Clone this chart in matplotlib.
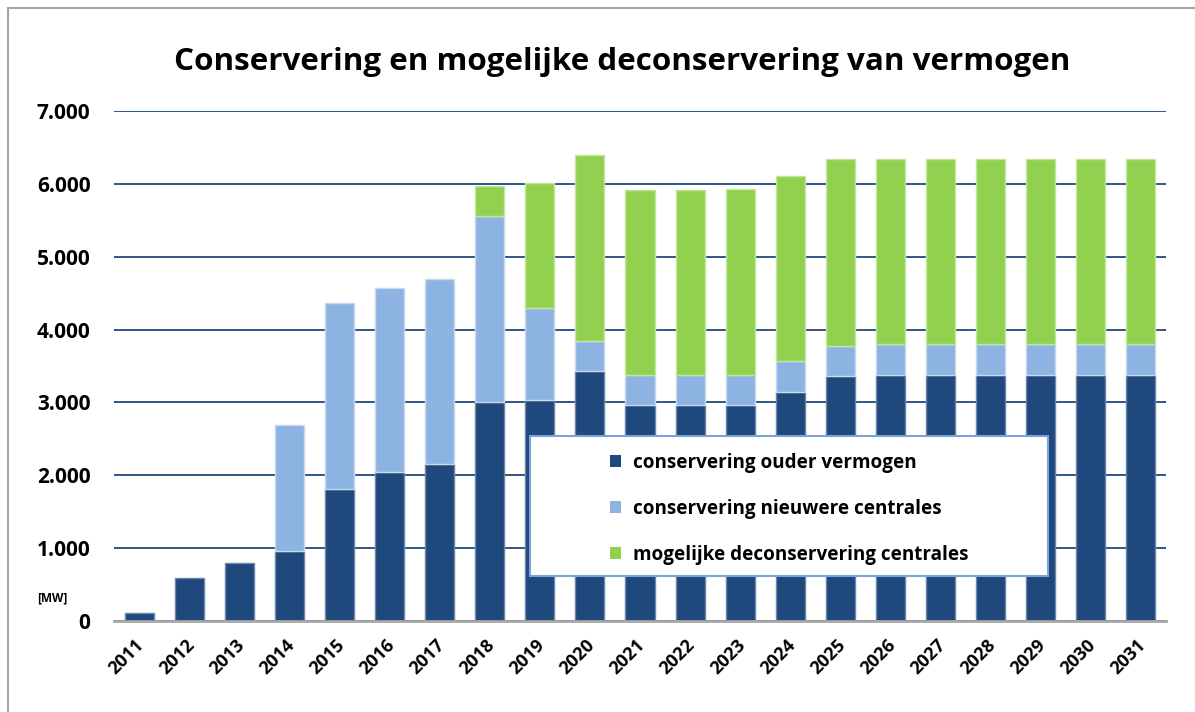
import matplotlib.pyplot as plt
import matplotlib.transforms as mtransforms
import numpy as np
from matplotlib.patches import Patch, Rectangle
from matplotlib.ticker import FuncFormatter

plt.rcParams['font.family'] = ['Open Sans', 'DejaVu Sans']

years = [str(y) for y in range(2011, 2032)]
ouder = [110, 585, 790, 965, 1810, 2045, 2155, 3010, 3040, 3430, 2960, 2960,
         2960, 3150, 3360, 3375, 3375, 3375, 3375, 3375, 3375]
nieuwere = [0, 0, 0, 1730, 2555, 2525, 2540, 2550, 1250, 410, 420, 420,
            420, 425, 420, 425, 425, 425, 425, 425, 425]
deconserv = [0, 0, 0, 0, 0, 0, 0, 410, 1715, 2550, 2535, 2535,
             2555, 2535, 2555, 2535, 2535, 2535, 2535, 2535, 2535]
labels = ['conservering ouder vermogen',
          'conservering nieuwere centrales',
          'mogelijke deconservering centrales']
colors = ['#1F497D', '#8DB3E2', '#92D050']
edges = ['#6b86a8', '#c6d9f0', '#c4e6a0']

fig = plt.figure(figsize=(11.95, 7.12), dpi=100)
ax = fig.add_axes([0.0954, 0.1278, 0.8803, 0.7163])

# grey chart frame
fig.patches.append(Rectangle((8 / 1195, -0.1), 1.2, 1 - 8 / 712 + 0.1,
                             transform=fig.transFigure, fill=False,
                             edgecolor='#A6A6A6', lw=1.5))

x = np.arange(len(years))
w = 0.58
bottom = np.zeros(len(years))
for vals, col, ec in zip([ouder, nieuwere, deconserv], colors, edges):
    v = np.array(vals, dtype=float)
    keep = v > 0
    ax.bar(x[keep], v[keep], w, bottom=bottom[keep], color=col, edgecolor=ec,
           linewidth=1, zorder=3)
    bottom += v

ax.set_xlim(-0.5, len(years) - 0.5)
ax.set_ylim(0, 7000)
ax.set_yticks(np.arange(0, 7001, 1000))
ax.yaxis.set_major_formatter(FuncFormatter(lambda v, p: f'{int(v):,}'.replace(',', '.')))
ax.yaxis.grid(True, color='#1F497D', lw=1.3, zorder=1)
ax.set_axisbelow(True)
for s in ['top', 'right', 'left']:
    ax.spines[s].set_visible(False)
ax.spines['bottom'].set_color('#A6A6A6')
ax.spines['bottom'].set_linewidth(2)
ax.spines['bottom'].set_zorder(4)
ax.tick_params(axis='y', length=0, pad=17, labelsize=15)
ax.tick_params(axis='x', length=0, pad=11)
ax.set_xticks(x)
ax.set_xticklabels(years, rotation=45, ha='right', va='top', rotation_mode='anchor',
                   fontsize=13, fontweight='bold')
shift = mtransforms.ScaledTranslation(-4 / 100, 0, fig.dpi_scale_trans)
for lab in ax.get_xticklabels():
    lab.set_transform(lab.get_transform() + shift)
for lab in ax.get_yticklabels():
    lab.set_fontweight('bold')

ax.text(-0.059, 0.045, '[MW]', transform=ax.transAxes, fontsize=8.5, fontweight='bold',
        ha='center', va='center')

fig.text(0.521, 0.913, 'Conservering en mogelijke deconservering van vermogen',
         ha='center', va='center', fontsize=22.6, fontweight='bold')

# legend box
bx0, by0, bw, bh = 0.3954, 0.0882, 0.4924, 0.2745
ax.add_patch(Rectangle((bx0, by0), bw, bh, transform=ax.transAxes, facecolor='white',
                       edgecolor='#7aa3d9', lw=1.5, zorder=5))
handles = [Patch(facecolor=c, edgecolor='none') for c in colors]
leg = ax.legend(handles, labels, loc='center',
                bbox_to_anchor=(bx0 + bw / 2, by0 + bh / 2 - 0.006),
                frameon=False, labelspacing=1.38, handlelength=0.6,
                handleheight=0.6, handletextpad=0.6,
                prop={'weight': 'bold', 'size': 13.6})
leg.set_zorder(6)

fig.savefig('out.png', dpi=100)
